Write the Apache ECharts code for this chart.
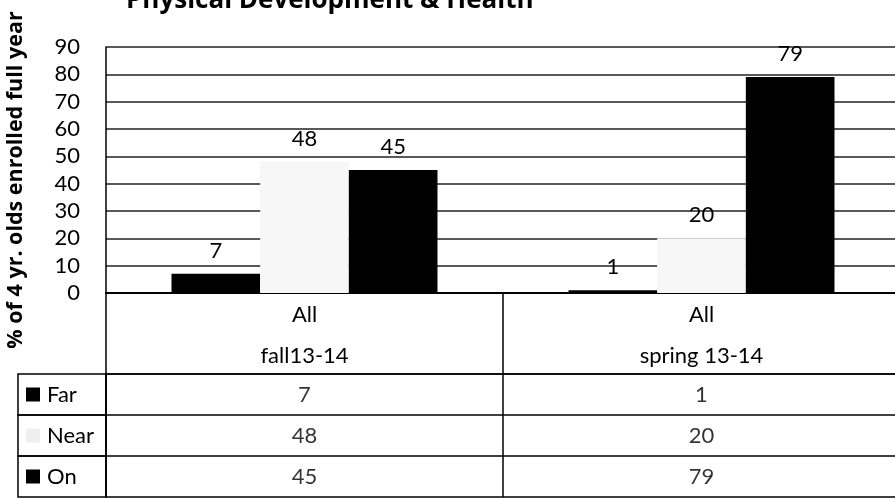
<!DOCTYPE html>
<html>
<head>
<meta charset="utf-8">
<script src="https://cdn.jsdelivr.net/npm/echarts@6/dist/echarts.min.js"></script>
<style>
  html, body { margin: 0; background: #fff; }
  #chart { width: 895px; height: 498px; }
</style>
</head>
<body>
<div id="chart"></div>
<script>
const categories = ["fall13-14", "spring 13-14"];
const groupLabel = "All";
const seriesNames = ["Far", "Near", "On"];
const farValues = [7, 1];
const nearValues = [48, 20];
const onValues = [45, 79];

const FONT = "Lato";
const colors = ["#000", "#f7f7f7", "#000"];
const allValues = [farValues, nearValues, onValues];

// table cells: [category, row, value]
const tableCells = [];
allValues.forEach((vals, row) => {
  vals.forEach((v, c) => tableCells.push([c, row, v]));
});

const chart = echarts.init(document.getElementById("chart"));

const option = {
  animation: false,
  textStyle: { fontFamily: FONT },
  title: {
    text: "Physical Development & Health",
    left: 121,
    top: -17,
    textStyle: { fontFamily: "Open Sans", fontSize: 26, fontWeight: "bold", color: "#000" },
  },
  grid: [
    { left: 106, top: 47, width: 794, height: 246, outerBoundsMode: "none" },
    { left: 106, top: 374, width: 794, height: 123, outerBoundsMode: "none" },
  ],
  xAxis: [
    {
      gridIndex: 0,
      type: "category",
      data: categories,
      axisLine: { lineStyle: { color: "#000", width: 2 } },
      axisTick: { show: true, length: 81, interval: 0, lineStyle: { color: "#000", width: 1.5 } },
      axisLabel: {
        margin: 1,
        interval: 0,
        lineHeight: 41,
        fontSize: 22,
        color: "#000",
        formatter: (v) => groupLabel + "\n" + v,
      },
    },
    {
      gridIndex: 1,
      type: "category",
      data: categories,
      position: "top",
      axisLine: { lineStyle: { color: "#000", width: 1.5 } },
      axisTick: { show: false },
      axisLabel: { show: false },
      splitLine: { show: true, interval: 0, lineStyle: { color: "#000", width: 1.5 } },
    },
  ],
  yAxis: [
    {
      gridIndex: 0,
      type: "value",
      min: 0,
      max: 90,
      interval: 10,
      name: "% of 4 yr. olds enrolled full year",
      nameLocation: "middle",
      nameRotate: 90,
      nameGap: 79,
      nameTextStyle: { fontFamily: "Open Sans", fontSize: 21.5, fontWeight: "bold", color: "#000", padding: [0, 20, 0, 0] },
      axisLine: { show: true, lineStyle: { color: "#000", width: 1.5 } },
      axisTick: { show: false },
      axisLabel: { fontSize: 22, color: "#000", margin: 26 },
      splitLine: { lineStyle: { color: "#222", width: 1.5 } },
    },
    {
      gridIndex: 1,
      type: "category",
      data: seriesNames,
      inverse: true,
      axisLine: { show: true, lineStyle: { color: "#000", width: 1.5 } },
      axisTick: { show: false },
      axisLabel: { show: false },
      splitLine: { show: true, interval: 0, lineStyle: { color: "#000", width: 1.5 } },
    },
  ],
  series: [
    ...seriesNames.map((name, i) => ({
      name,
      type: "bar",
      xAxisIndex: 0,
      yAxisIndex: 0,
      data: allValues[i],
      barGap: "0%",
      barCategoryGap: "33%",
      itemStyle: { color: colors[i] },
      label: { show: true, position: "top", distance: 12, fontSize: 22, color: "#000" },
    })),
    {
      type: "scatter",
      xAxisIndex: 1,
      yAxisIndex: 1,
      symbolSize: 0,
      data: tableCells,
      label: {
        show: true,
        position: "inside",
        fontSize: 22,
        color: "#000",
        formatter: (p) => p.value[2],
      },
    },
    {
      // legend column on the left of the table
      type: "custom",
      xAxisIndex: 1,
      yAxisIndex: 1,
      clip: false,
      data: seriesNames.map((n, i) => [0, i]),
      renderItem: (params, api) => {
        const row = api.value(1);
        const cs = params.coordSys;
        const cy = api.coord([0, row])[1];
        const h = api.size([0, 1])[1];
        const x0 = cs.x - 88;
        return {
          type: "group",
          children: [
            {
              type: "rect",
              shape: { x: x0, y: cy - h / 2, width: 88, height: h },
              style: { fill: "none", stroke: "#000", lineWidth: 1.5 },
            },
            {
              type: "rect",
              shape: { x: x0 + 8, y: cy - 7, width: 14, height: 14 },
              style: { fill: row === 1 ? "#efefef" : colors[row] },
            },
            {
              type: "text",
              style: {
                x: x0 + 29,
                y: cy,
                text: seriesNames[row],
                fontFamily: FONT,
                fontSize: 22,
                fill: "#000",
                verticalAlign: "middle",
              },
            },
          ],
        };
      },
    },
  ],
};

chart.setOption(option);
</script>
</body>
</html>
